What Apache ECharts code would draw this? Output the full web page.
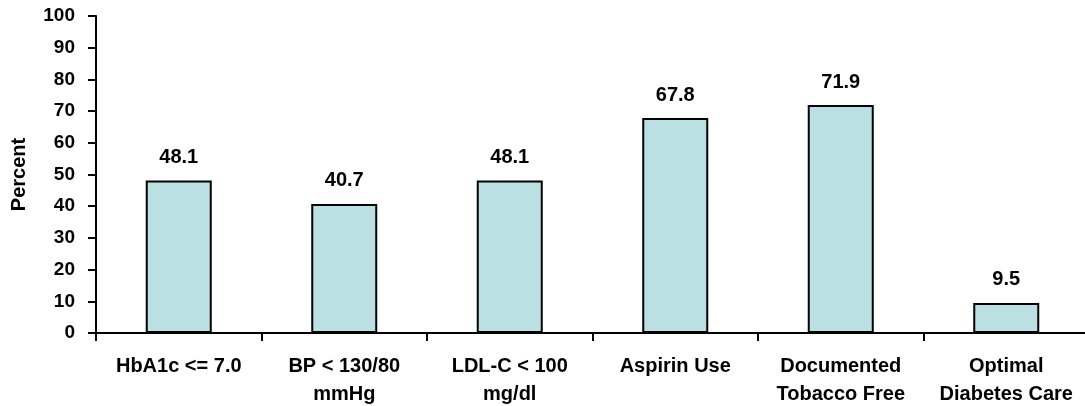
<!DOCTYPE html>
<html><head><meta charset="utf-8">
<script src="https://cdn.jsdelivr.net/npm/echarts@6/dist/echarts.min.js"></script>
<style>html,body{margin:0;padding:0;background:#fff}#c{width:1085px;height:406px}</style>
</head><body><div id="c"></div>
<script>
var categories = ["HbA1c <= 7.0", "BP < 130/80\nmmHg", "LDL-C < 100\nmg/dl", "Aspirin Use", "Documented\nTobacco Free", "Optimal\nDiabetes Care"];
var values = [48.1, 40.7, 48.1, 67.8, 71.9, 9.5];
var yTicks = [0, 10, 20, 30, 40, 50, 60, 70, 80, 90, 100];

var font = '"Liberation Sans", Arial, sans-serif';
var chart = echarts.init(document.getElementById('c'), null, {renderer: 'canvas'});
chart.setOption({
  animation: false,
  grid: {left: 96, width: 993, top: 16, bottom: 73, containLabel: false, outerBoundsMode: 'none'},
  xAxis: {
    type: 'category', data: categories,
    axisLine: {lineStyle: {color: '#000', width: 2}},
    axisTick: {show: true, length: 8, lineStyle: {color: '#000', width: 2}},
    axisLabel: {color: '#000', fontFamily: font, fontWeight: 'bold', fontSize: 20, lineHeight: 28, margin: 19, interval: 0}
  },
  yAxis: {
    type: 'value', min: yTicks[0], max: yTicks[yTicks.length - 1], interval: 10,
    name: 'Percent', nameLocation: 'middle', nameGap: 67, nameRotate: 90,
    nameTextStyle: {color: '#000', fontFamily: font, fontWeight: 'bold', fontSize: 20},
    axisLine: {show: true, lineStyle: {color: '#000', width: 2}},
    axisTick: {show: true, length: 8, lineStyle: {color: '#000', width: 2}},
    splitLine: {show: false},
    axisLabel: {color: '#000', fontFamily: font, fontWeight: 'bold', fontSize: 19, margin: 21}
  },
  series: [{
    type: 'bar', data: values, barWidth: 66,
    itemStyle: {color: '#BAE0E3', borderColor: '#000', borderWidth: 2},
    label: {show: true, position: 'top', distance: 13, color: '#000', fontFamily: font, fontWeight: 'bold', fontSize: 20,
      formatter: function (p) { return p.value.toFixed(1); }}
  }]
});
</script></body></html>
